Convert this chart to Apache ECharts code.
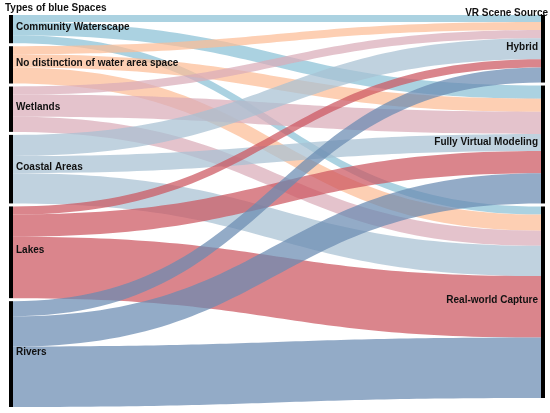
<!DOCTYPE html>
<html>
    <head>
        <meta charset="UTF-8">
        <title>Types of blue Spaces / VR Scene Source</title>
        <script src="https://cdn.jsdelivr.net/npm/echarts@6/dist/echarts.min.js"></script>
        <style>
            body,html{margin:0;padding:0;width:100%;height:100%;background:#fff;}
            #sankeyVR{width:550px;height:413px;}
        </style>
    </head>
    <body>
        <div id="sankeyVR"></div>
        <script type="text/javascript">
          // left column: types of blue spaces
          var spaceTypes = ['Community Waterscape', 'No distinction of water area space', 'Wetlands', 'Coastal Areas', 'Lakes', 'Rivers'];
          // right column: VR scene source
          var sceneSources = ['Hybrid', 'Fully Virtual Modeling', 'Real-world Capture'];
          // flow values for each space type (same order as spaceTypes)
          var toHybrid  = [7, 8, 8, 21, 8, 15];
          var toVirtual = [13, 13, 22, 17, 22, 30];
          var toCapture = [8, 16, 15, 30, 61, 60];
          var linkColors = ['#8BC0D6', '#FCBC96', '#DAACB8', '#A7C0D2', '#CC5660', '#6A8AB2'];

          var labelFont = {fontFamily: 'Liberation Sans, Arial, sans-serif', fontSize: 10, fontWeight: 'bold', color: '#111'};

          var nodes = [];
          spaceTypes.forEach(function (n) {
              nodes.push({name: n, label: {position: 'right', distance: 3, offset: [0, -2]}});
          });
          sceneSources.forEach(function (n) {
              nodes.push({name: n, label: {position: 'left', distance: 3, offset: [0, -2]}});
          });

          var flowsByTarget = [toHybrid, toVirtual, toCapture];
          var links = [];
          spaceTypes.forEach(function (s, i) {
              sceneSources.forEach(function (t, j) {
                  links.push({
                      source: s,
                      target: t,
                      value: flowsByTarget[j][i],
                      lineStyle: {color: linkColors[i]}
                  });
              });
          });

          var sankeyChart = echarts.init(document.getElementById('sankeyVR'));
          var sankeyOption = {
              animation: false,
              title: [
                  {text: 'Types of blue Spaces', left: 5, top: 3, padding: 0, textStyle: labelFont},
                  {text: 'VR Scene Source', right: 2, top: 8, padding: 0, textStyle: labelFont}
              ],
              series: [{
                  type: 'sankey',
                  left: 9,
                  right: 5,
                  top: 15,
                  bottom: 6,
                  nodeWidth: 4,
                  nodeGap: 3,
                  layoutIterations: 0,
                  draggable: false,
                  emphasis: {disabled: true},
                  itemStyle: {color: '#000', borderWidth: 0},
                  lineStyle: {opacity: 0.72, curveness: 0.5},
                  label: labelFont,
                  data: nodes,
                  links: links
              }]
          };
          sankeyChart.setOption(sankeyOption);
        </script>
    </body>
</html>
